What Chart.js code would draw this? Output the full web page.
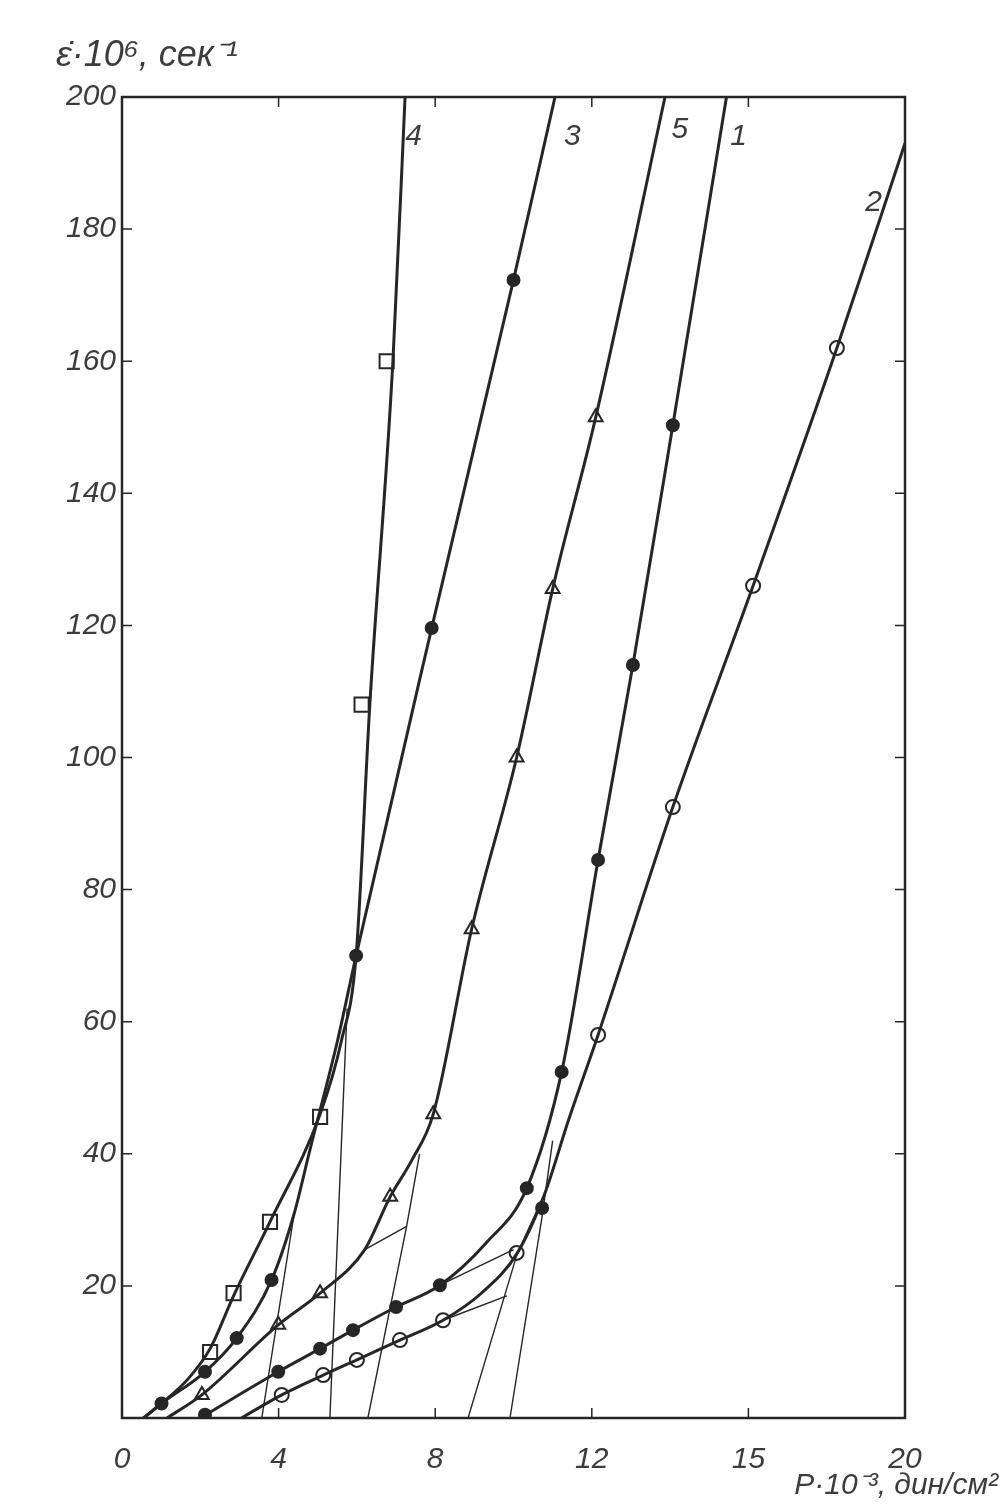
<!DOCTYPE html>
<html>
<head>
<meta charset="utf-8">
<script src="https://cdn.jsdelivr.net/npm/chart.js@4.4.0/dist/chart.umd.min.js"></script>
<style>
  html, body { margin: 0; padding: 0; background: #ffffff; }
  #wrap { width: 1006px; height: 1506px; }
</style>
</head>
<body>
<div id="wrap"><canvas id="chart" width="1006" height="1506"></canvas></div>
<script>
// axis ticks
var xTicks = [0, 4, 8, 12, 16, 20];
var yTicks = [20, 40, 60, 80, 100, 120, 140, 160, 180, 200];

// curve 1 - filled circles
var c1LineX = [2.0, 3.99, 5.06, 5.9, 7.0, 8.12, 9.3, 10.34, 11.23, 12.16, 13.05, 14.07, 15.44];
var c1LineY = [0, 7.0, 10.5, 13.3, 16.8, 20.1, 26.5, 34.8, 52.4, 84.5, 114, 150.3, 200];
var c1PtsX = [2.12, 3.99, 5.06, 5.9, 7.0, 8.12, 10.34, 10.73, 11.23, 12.16, 13.05, 14.07];
var c1PtsY = [0.5, 7.0, 10.5, 13.3, 16.8, 20.1, 34.8, 31.8, 52.4, 84.5, 114, 150.3];

// curve 2 - open circles
var c2LineX = [3.05, 4.08, 5.14, 6.0, 7.1, 8.2, 9.2, 10.1, 10.8, 11.4, 12.16, 14.07, 16.12, 18.26, 20];
var c2LineY = [0, 3.5, 6.5, 8.8, 11.8, 14.8, 19, 25, 34, 45, 58, 92.5, 126, 162, 193];
var c2PtsX = [4.08, 5.14, 6.0, 7.1, 8.2, 10.08, 12.16, 14.07, 16.12, 18.26];
var c2PtsY = [3.5, 6.5, 8.8, 11.8, 14.8, 25, 58, 92.5, 126, 162];

// curve 3 - filled circles
var c3LineX = [0.55, 1.01, 2.12, 2.93, 3.82, 4.4, 4.8, 5.5, 5.98, 7.91, 10.0, 11.06];
var c3LineY = [0, 2.2, 7.0, 12.1, 20.9, 31, 40.6, 57, 70, 119.6, 172.3, 200];
var c3PtsX = [1.01, 2.12, 2.93, 3.82, 5.98, 7.91, 10.0];
var c3PtsY = [2.2, 7.0, 12.1, 20.9, 70, 119.6, 172.3];

// curve 4 - open squares
var c4LineX = [0.55, 1.01, 1.7, 2.25, 2.85, 3.78, 5.06, 5.6, 5.98, 6.33, 6.92, 7.23];
var c4LineY = [0, 2.2, 6, 10.5, 18.5, 29.7, 46, 57, 70, 108, 160, 200];
var c4PtsX = [2.25, 2.85, 3.78, 5.06, 6.12, 6.76];
var c4PtsY = [10, 18.9, 29.7, 45.6, 108, 160];

// curve 5 - open triangles
var c5LineX = [1.15, 2.04, 3.99, 5.06, 6.2, 6.85, 7.4, 7.95, 8.93, 10.08, 11.0, 12.1, 13.87];
var c5LineY = [0, 3.5, 14.1, 18.9, 25.5, 33.5, 39, 46, 74, 100, 125.5, 151.5, 200];
var c5PtsX = [2.04, 3.99, 5.06, 6.85, 7.95, 8.93, 10.08, 11.0, 12.1];
var c5PtsY = [3.5, 14.1, 18.9, 33.5, 46, 74, 100, 125.5, 151.5];

// thin construction lines (extrapolations)
var thinLines = [
  { x: [3.57, 4.4], y: [0, 31] },
  { x: [5.31, 5.75], y: [0, 62] },
  { x: [6.28, 7.27, 7.6], y: [0, 29, 40] },
  { x: [6.2, 7.27], y: [25.5, 29] },
  { x: [8.84, 10.1, 10.8], y: [0, 25, 34] },
  { x: [9.91, 10.73, 11.0], y: [0, 30.5, 42] },
  { x: [8.12, 10.0], y: [20.1, 25.5] },
  { x: [8.2, 9.83], y: [14.8, 18.5] }
];

// curve numbers near the top
var curveNames = ['4', '3', '5', '1', '2'];
var curveNameX = [7.45, 11.5, 14.25, 15.75, 19.2];
var curveNameY = [194, 194, 195, 194, 184];

var yTitle = 'ε̇·10⁶, сек⁻¹';
var xTitle = 'Р·10⁻³, дин/см²';

var ink = '#262626';
var labelInk = '#3c3c3c';

function toPoints(xs, ys) {
  var pts = [];
  for (var i = 0; i < xs.length; i++) {
    pts.push({ x: xs[i], y: ys[i] });
  }
  return pts;
}

function lineSet(xs, ys, width) {
  return {
    data: toPoints(xs, ys),
    showLine: true,
    borderColor: ink,
    borderWidth: width,
    pointRadius: 0,
    cubicInterpolationMode: 'monotone',
    fill: false
  };
}

function markSet(xs, ys, style, filled, radius) {
  return {
    data: toPoints(xs, ys),
    showLine: false,
    pointStyle: style,
    pointRadius: radius,
    pointBorderWidth: 2,
    pointBorderColor: ink,
    pointBackgroundColor: filled ? ink : '#ffffff'
  };
}

var datasets = [];
thinLines.forEach(function (t) {
  var d = lineSet(t.x, t.y, 1.4);
  d.cubicInterpolationMode = 'default';
  datasets.push(d);
});
datasets.push(lineSet(c1LineX, c1LineY, 3));
datasets.push(lineSet(c2LineX, c2LineY, 3));
datasets.push(lineSet(c3LineX, c3LineY, 3));
datasets.push(lineSet(c4LineX, c4LineY, 3));
datasets.push(lineSet(c5LineX, c5LineY, 3));
datasets.push(markSet(c1PtsX, c1PtsY, 'circle', true, 6));
datasets.push(markSet(c2PtsX, c2PtsY, 'circle', false, 7));
datasets.push(markSet(c3PtsX, c3PtsY, 'circle', true, 6));
datasets.push(markSet(c4PtsX, c4PtsY, 'rect', false, 10));
datasets.push(markSet(c5PtsX, c5PtsY, 'triangle', false, 8));

// frame, inward ticks and texts
var decorations = {
  id: 'decorations',
  afterDraw: function (chart) {
    var ctx = chart.ctx;
    var a = chart.chartArea;
    var xs = chart.scales.x;
    var ys = chart.scales.y;
    ctx.save();
    ctx.strokeStyle = ink;
    ctx.lineWidth = 2.5;
    ctx.strokeRect(a.left, a.top, a.right - a.left, a.bottom - a.top);

    ctx.lineWidth = 1.5;
    ctx.beginPath();
    xTicks.forEach(function (v) {
      var px = xs.getPixelForValue(v);
      ctx.moveTo(px, a.bottom);
      ctx.lineTo(px, a.bottom - 10);
      ctx.moveTo(px, a.top);
      ctx.lineTo(px, a.top + 10);
    });
    yTicks.forEach(function (v) {
      var py = ys.getPixelForValue(v);
      ctx.moveTo(a.left, py);
      ctx.lineTo(a.left + 10, py);
      ctx.moveTo(a.right, py);
      ctx.lineTo(a.right - 10, py);
    });
    ctx.stroke();

    ctx.fillStyle = labelInk;
    ctx.textAlign = 'center';
    ctx.textBaseline = 'middle';
    ctx.font = 'italic 30px "Liberation Sans"';
    for (var i = 0; i < curveNames.length; i++) {
      ctx.fillText(curveNames[i], xs.getPixelForValue(curveNameX[i]), ys.getPixelForValue(curveNameY[i]));
    }

    ctx.textAlign = 'left';
    ctx.textBaseline = 'alphabetic';
    ctx.font = 'italic 36px "Liberation Sans"';
    ctx.fillText(yTitle, 56, 66);

    ctx.textAlign = 'right';
    ctx.font = 'italic 30px "Liberation Sans"';
    ctx.fillText(xTitle, 998, 1494);
    ctx.restore();
  }
};

var chart = new Chart(document.getElementById('chart'), {
  type: 'scatter',
  data: { datasets: datasets },
  options: {
    responsive: false,
    animation: false,
    layout: { padding: { left: 0, right: 101, top: 97, bottom: 0 } },
    plugins: {
      legend: { display: false },
      tooltip: { enabled: false }
    },
    scales: {
      x: {
        type: 'linear',
        min: 0,
        max: 20,
        afterBuildTicks: function (scale) {
          scale.ticks = xTicks.map(function (v) { return { value: v }; });
        },
        afterFit: function (scale) { scale.height = 88; },
        grid: { display: false, drawTicks: false },
        border: { display: false },
        ticks: {
          padding: 24,
          maxRotation: 0,
          color: labelInk,
          font: { family: 'Liberation Sans', size: 30, style: 'italic' },
          // the printed figure labels the 16 tick as "15"
          callback: function (v) { return v === 16 ? '15' : String(v); }
        }
      },
      y: {
        type: 'linear',
        min: 0,
        max: 200,
        afterBuildTicks: function (scale) {
          scale.ticks = yTicks.map(function (v) { return { value: v }; });
        },
        afterFit: function (scale) { scale.width = 122; },
        grid: { display: false, drawTicks: false },
        border: { display: false },
        ticks: {
          padding: 6,
          color: labelInk,
          font: { family: 'Liberation Sans', size: 30, style: 'italic' },
          callback: function (v) { return String(v); }
        }
      }
    }
  },
  plugins: [decorations]
});
</script>
</body>
</html>
